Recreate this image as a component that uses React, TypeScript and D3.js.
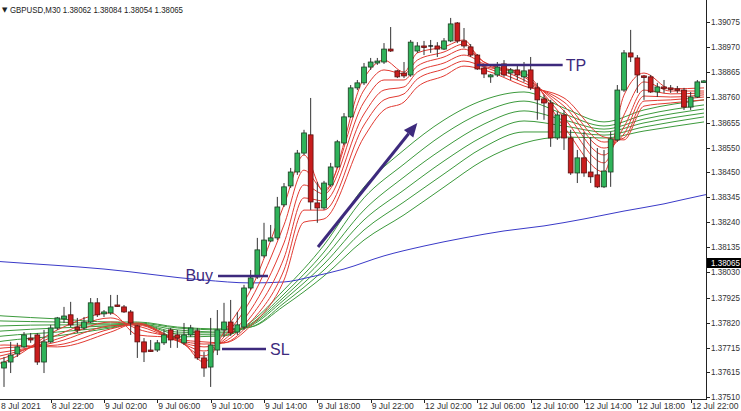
import React from 'react';
import * as d3 from 'd3';

// GBPUSD M30 candles, bar index 0 = 8 Jul 18:30 (weekend gap after bar 58)
const opens = [
  1.37631, 1.37656, 1.3769, 1.37719, 1.37756, 1.37769, 1.37656, 1.3774, 1.37798, 1.37836,
  1.37853, 1.37802, 1.37798, 1.37823, 1.37903, 1.37857, 1.37861, 1.37894, 1.37886, 1.37865,
  1.37807, 1.3774, 1.37706, 1.37706, 1.37736, 1.3779, 1.37769, 1.37736, 1.37769, 1.37786,
  1.37673, 1.37635, 1.37706, 1.3779, 1.37823, 1.37781, 1.37802, 1.37965, 1.38011, 1.38099,
  1.38161, 1.38174, 1.38312, 1.38391, 1.38449, 1.38528, 1.38604, 1.3832, 1.38299, 1.38395,
  1.3847, 1.3857, 1.38679, 1.388, 1.38821, 1.38887, 1.38904, 1.38908, 1.38962, 1.38871,
  1.38862, 1.38854, 1.38954, 1.38975, 1.38975, 1.38975, 1.38962, 1.38996, 1.39071, 1.38996,
  1.38971, 1.38937, 1.38883, 1.38846, 1.38854, 1.389, 1.38862, 1.38875, 1.38846, 1.38875,
  1.388, 1.38754, 1.38737, 1.38591, 1.38687, 1.38591, 1.38445, 1.38508, 1.38449, 1.38437,
  1.38387, 1.38449, 1.38583, 1.38791, 1.38946, 1.38925, 1.3885, 1.38846, 1.38783, 1.38804,
  1.388, 1.38796, 1.38791, 1.3872, 1.38762, 1.38825,
];
const highs = [
  1.37677, 1.3774, 1.37736, 1.37781, 1.37777, 1.37777, 1.3779, 1.37811, 1.37844, 1.37886,
  1.37907, 1.3784, 1.37844, 1.37923, 1.37923, 1.37873, 1.37936, 1.37936, 1.37894, 1.37873,
  1.37811, 1.37756, 1.37748, 1.37748, 1.3779, 1.37798, 1.3779, 1.37819, 1.37811, 1.37798,
  1.37698, 1.3784, 1.37873, 1.37903, 1.37915, 1.37865, 1.37978, 1.3804, 1.38174, 1.38237,
  1.38228, 1.38345, 1.38403, 1.38466, 1.38541, 1.38625, 1.38758, 1.38407, 1.38412, 1.38487,
  1.38583, 1.38695, 1.38812, 1.38833, 1.38904, 1.38925, 1.38925, 1.38987, 1.39054, 1.38875,
  1.38908, 1.39, 1.38991, 1.38996, 1.39, 1.38991, 1.39008, 1.39092, 1.39075, 1.3905,
  1.38983, 1.38941, 1.38891, 1.38858, 1.38908, 1.38916, 1.38883, 1.38896, 1.38908, 1.38929,
  1.38821, 1.38771, 1.3875, 1.387, 1.38708, 1.38625, 1.38541, 1.38616, 1.38595, 1.38549,
  1.38541, 1.38616, 1.38812, 1.38958, 1.39042, 1.38937, 1.38854, 1.38854, 1.38821, 1.38833,
  1.38812, 1.38808, 1.388, 1.38783, 1.38833, 1.38833,
];
const lows = [
  1.37552, 1.3761, 1.37677, 1.37715, 1.37736, 1.37644, 1.3761, 1.37736, 1.3779, 1.37819,
  1.37802, 1.37777, 1.3779, 1.37819, 1.37844, 1.37844, 1.37853, 1.37886, 1.37861, 1.37769,
  1.37673, 1.37656, 1.37698, 1.37698, 1.37727, 1.37715, 1.37715, 1.37727, 1.37761, 1.37665,
  1.37594, 1.37552, 1.37685, 1.37761, 1.37765, 1.37769, 1.3779, 1.37957, 1.38003, 1.38091,
  1.38157, 1.38165, 1.38303, 1.38382, 1.38437, 1.3852, 1.38291, 1.38237, 1.38291, 1.38387,
  1.38466, 1.38562, 1.38675, 1.38791, 1.38812, 1.38875, 1.38896, 1.389, 1.3895, 1.38841,
  1.38841, 1.38846, 1.38946, 1.38937, 1.38946, 1.38929, 1.38958, 1.38991, 1.38987, 1.38966,
  1.38929, 1.38875, 1.38841, 1.38821, 1.38846, 1.38846, 1.38833, 1.38833, 1.38825, 1.38791,
  1.38667, 1.38667, 1.38554, 1.38583, 1.38541, 1.38437, 1.38403, 1.38429, 1.38403, 1.38382,
  1.38382, 1.38387, 1.38575, 1.38783, 1.38908, 1.38779, 1.3875, 1.38779, 1.38762, 1.38779,
  1.38779, 1.38779, 1.38708, 1.38708, 1.38758, 1.38821,
];
const closes = [
  1.37656, 1.37685, 1.37719, 1.37769, 1.37748, 1.37656, 1.3774, 1.37798, 1.3784, 1.37848,
  1.37811, 1.3779, 1.37823, 1.37903, 1.37853, 1.37865, 1.37886, 1.37892, 1.37865, 1.37819,
  1.3774, 1.37698, 1.37704, 1.37736, 1.37769, 1.37748, 1.37756, 1.37769, 1.37798, 1.37673,
  1.37631, 1.37727, 1.3779, 1.37823, 1.37777, 1.37811, 1.37965, 1.38007, 1.38124, 1.38165,
  1.38174, 1.38303, 1.38387, 1.38449, 1.38528, 1.38612, 1.38324, 1.38299, 1.38403, 1.3847,
  1.38575, 1.38679, 1.388, 1.38821, 1.38887, 1.38908, 1.38912, 1.38962, 1.38954, 1.38846,
  1.3885, 1.38991, 1.38975, 1.38973, 1.38975, 1.38962, 1.38996, 1.39067, 1.38996, 1.38975,
  1.38937, 1.38879, 1.38858, 1.38854, 1.38887, 1.38854, 1.38875, 1.38854, 1.38871, 1.388,
  1.3875, 1.38737, 1.38591, 1.38687, 1.38591, 1.38445, 1.38508, 1.38445, 1.38429, 1.38387,
  1.38453, 1.38587, 1.38791, 1.38946, 1.38929, 1.38854, 1.38846, 1.38783, 1.38804, 1.388,
  1.38796, 1.38791, 1.3872, 1.38762, 1.38825, 1.38829,
];

// fast ribbon (red), read at these bars (-1 = left edge of the window)
const redBars = [-1, 0, 8, 16, 20, 26, 30, 33, 37, 42, 45, 48, 54, 57, 60, 62, 66, 69, 72, 78, 84, 90, 93, 96, 100, 105];
const red1 = [1.37648, 1.37656, 1.3779, 1.37861, 1.37769, 1.37756, 1.37656, 1.37781, 1.37957, 1.38311, 1.3852, 1.38366, 1.38841, 1.38916, 1.38866, 1.38946, 1.38971, 1.39, 1.38891, 1.38862, 1.38637, 1.38449, 1.3877, 1.38862, 1.38796, 1.388];
const red2 = [1.37665, 1.37673, 1.37769, 1.3784, 1.37794, 1.37748, 1.37681, 1.37761, 1.37915, 1.38228, 1.38457, 1.38374, 1.38791, 1.38875, 1.38858, 1.38916, 1.3895, 1.38983, 1.38908, 1.38854, 1.38675, 1.38487, 1.38687, 1.38825, 1.38787, 1.38787];
const red3 = [1.37679, 1.37685, 1.37752, 1.37823, 1.37807, 1.37744, 1.37702, 1.37748, 1.37873, 1.38153, 1.38395, 1.38357, 1.38741, 1.38833, 1.38833, 1.38891, 1.38929, 1.38962, 1.38908, 1.38846, 1.38704, 1.3852, 1.38637, 1.38791, 1.38775, 1.38779];
const red4 = [1.37694, 1.37698, 1.3774, 1.37807, 1.37811, 1.37744, 1.37719, 1.3774, 1.37844, 1.3809, 1.38341, 1.38328, 1.38691, 1.38791, 1.38804, 1.38866, 1.38904, 1.38937, 1.389, 1.38833, 1.38724, 1.38549, 1.38608, 1.38766, 1.38762, 1.38771];
const red5 = [1.37712, 1.37715, 1.37727, 1.37794, 1.37815, 1.37748, 1.37731, 1.37736, 1.37823, 1.3804, 1.3829, 1.3829, 1.38645, 1.3875, 1.38775, 1.38837, 1.38879, 1.38912, 1.38887, 1.38821, 1.38741, 1.38574, 1.38591, 1.38745, 1.3875, 1.38762];
const red6 = [1.37725, 1.37727, 1.37719, 1.37781, 1.37819, 1.37752, 1.3774, 1.37736, 1.37807, 1.37998, 1.3824, 1.38253, 1.38595, 1.38708, 1.38741, 1.38804, 1.3885, 1.38891, 1.38875, 1.38808, 1.38758, 1.38595, 1.38583, 1.38724, 1.38737, 1.3875];

// slow ribbon (green)
const greenBars = [-1, 0, 8, 16, 20, 26, 33, 37, 42, 48, 54, 60, 66, 72, 78, 84, 90, 96, 105];
const green1 = [1.3774, 1.37744, 1.37765, 1.37798, 1.37815, 1.37761, 1.37765, 1.37823, 1.37957, 1.38144, 1.38386, 1.38541, 1.38666, 1.3875, 1.38783, 1.38716, 1.38658, 1.38708, 1.3875];
const green2 = [1.37762, 1.37765, 1.37781, 1.37802, 1.37815, 1.37773, 1.37769, 1.37815, 1.3794, 1.38115, 1.38341, 1.38482, 1.38608, 1.387, 1.38745, 1.38691, 1.38641, 1.38687, 1.38729];
const green3 = [1.37784, 1.37786, 1.37798, 1.37807, 1.37815, 1.37781, 1.37777, 1.37811, 1.37927, 1.3809, 1.3829, 1.38428, 1.38549, 1.38649, 1.38704, 1.38666, 1.38628, 1.3867, 1.38712];
const green4 = [1.37806, 1.37807, 1.37811, 1.37811, 1.37815, 1.3779, 1.37781, 1.37807, 1.37915, 1.38065, 1.38249, 1.38374, 1.38495, 1.38599, 1.38662, 1.38641, 1.38616, 1.38654, 1.38695];
const green5 = [1.37828, 1.37827, 1.37823, 1.37815, 1.37819, 1.37798, 1.3779, 1.37802, 1.37902, 1.3804, 1.38207, 1.38324, 1.38441, 1.38553, 1.38616, 1.38616, 1.38603, 1.38637, 1.38679];
const green6 = [1.3785, 1.37848, 1.37836, 1.37823, 1.37823, 1.37802, 1.37794, 1.37802, 1.3789, 1.38015, 1.38165, 1.3827, 1.38386, 1.38499, 1.3857, 1.38595, 1.38591, 1.3862, 1.38658];

// long MA (blue)
const blueBars = [-1, 0, 15, 30, 37, 42, 46, 51, 57, 63, 69, 75, 81, 87, 93, 99, 105, 106];
const blueVals = [1.38076, 1.38074, 1.38044, 1.37998, 1.37986, 1.3799, 1.38011, 1.38044, 1.38099, 1.3814, 1.38174, 1.38203, 1.38224, 1.38253, 1.38286, 1.38316, 1.38353, 1.38358];

const priceTicks = [1.39075, 1.3897, 1.38865, 1.3876, 1.38655, 1.3855, 1.3845, 1.38345, 1.3824, 1.38135, 1.3803, 1.37925, 1.3782, 1.37715, 1.37615, 1.3751];
const lastPrice = 1.38065;
const timeTickBars = [7, 15, 23, 31, 39, 47, 55, 63, 71, 79, 87, 95, 103];
const timeTickLabels = ['8 Jul 22:00', '9 Jul 02:00', '9 Jul 06:00', '9 Jul 10:00', '9 Jul 14:00', '9 Jul 18:00', '9 Jul 22:00', '12 Jul 02:00', '12 Jul 06:00', '12 Jul 10:00', '12 Jul 14:00', '12 Jul 18:00', '12 Jul 22:00'];

// hand drawn objects: [from bar, to bar, price]
const buyLine = [32.1, 39.6, 1.38015];
const slLine = [32.7, 39.3, 1.3771];
const tpLine = [70.9, 83.8, 1.38896];
const arrow = [47.1, 1.38136, 62.0, 1.38654];

const W = 741;
const H = 411;
const plotR = 706;
const plotB = 399;
const ink = '#3d2a7d';

const App = () => {
  const x = d3.scaleLinear().domain([0, 105]).range([4, 704]);
  const y = d3.scaleLinear().domain([1.3751, 1.39075]).range([397, 22]);

  const line = d3.line<[number, number]>()
    .x(d => x(d[0]))
    .y(d => y(d[1]))
    .curve(d3.curveMonotoneX);

  const path = (bars: number[], vals: number[]) =>
    line(bars.map((b, i) => [b, vals[i]] as [number, number])) || '';

  const reds = [red6, red5, red4, red3, red2, red1];
  const greens = [green6, green5, green4, green3, green2, green1];

  const bodyW = 4.8;

  // arrow geometry
  const ax1 = x(arrow[0]), ay1 = y(arrow[1]), ax2 = x(arrow[2]), ay2 = y(arrow[3]);
  const ang = Math.atan2(ay2 - ay1, ax2 - ax1);
  const headL = 14, headW = 6;
  const bx = ax2 - headL * Math.cos(ang), by = ay2 - headL * Math.sin(ang);
  const px = -Math.sin(ang), py = Math.cos(ang);

  const lastY = Math.round(y(lastPrice));

  return (
    <svg width={W} height={H} style={{ position: 'absolute', left: 0, top: 0, background: '#fff' }}
      fontFamily="'Liberation Sans', Arial, sans-serif">
      <defs>
        <clipPath id="plot"><rect x={0} y={0} width={plotR} height={plotB} /></clipPath>
      </defs>
      <rect x={0} y={0} width={W} height={H} fill="#fff" />

      <g clipPath="url(#plot)">
        {greens.map((g, i) => (
          <path key={'g' + i} d={path(greenBars, g)} fill="none" stroke="#3c9a3c" strokeWidth={1} />
        ))}
        <path d={path(blueBars, blueVals)} fill="none" stroke="#3a3ac8" strokeWidth={1} />
        {reds.map((r, i) => (
          <path key={'r' + i} d={path(redBars, r)} fill="none" stroke="#e23a32" strokeWidth={1} />
        ))}

        {opens.map((o, i) => {
          const c = closes[i];
          const cx = x(i);
          const up = c > o;
          const doji = Math.abs(c - o) < 0.000015;
          const top = y(Math.max(o, c));
          const bot = y(Math.min(o, c));
          return (
            <g key={i}>
              <line x1={cx} x2={cx} y1={y(highs[i])} y2={y(lows[i])} stroke="#333" strokeWidth={1} />
              {doji ? (
                <line x1={cx - bodyW / 2} x2={cx + bodyW / 2} y1={top} y2={top} stroke="#111" strokeWidth={1.4} />
              ) : (
                <rect x={cx - bodyW / 2} y={top} width={bodyW} height={Math.max(bot - top, 1.5)}
                  fill={up ? '#2fb35a' : '#c81d1d'} stroke={up ? '#1d3d22' : '#5a1010'} strokeWidth={0.8} />
              )}
            </g>
          );
        })}
      </g>

      {/* annotations */}
      <line x1={x(buyLine[0])} x2={x(buyLine[1])} y1={y(buyLine[2])} y2={y(buyLine[2])} stroke={ink} strokeWidth={2.5} />
      <text x={x(buyLine[0]) - 5} y={y(buyLine[2]) + 5} textAnchor="end" fontSize={16} fill={ink}>Buy</text>
      <line x1={x(slLine[0])} x2={x(slLine[1])} y1={y(slLine[2])} y2={y(slLine[2])} stroke={ink} strokeWidth={2.5} />
      <text x={x(slLine[1]) + 4} y={y(slLine[2]) + 6} fontSize={16} fill={ink}>SL</text>
      <line x1={x(tpLine[0])} x2={x(tpLine[1])} y1={y(tpLine[2])} y2={y(tpLine[2])} stroke={ink} strokeWidth={2.5} />
      <text x={x(tpLine[1]) + 3} y={y(tpLine[2]) + 6} fontSize={16} fill={ink}>TP</text>
      <line x1={ax1} y1={ay1} x2={bx} y2={by} stroke={ink} strokeWidth={3} />
      <polygon points={`${ax2},${ay2} ${bx + px * headW},${by + py * headW} ${bx - px * headW},${by - py * headW}`} fill={ink} />

      {/* header */}
      <text x={2} y={12} fontSize={7} fill="#222" fontFamily="'DejaVu Sans', sans-serif">▼</text>
      <text x={10} y={13} fontSize={9} fill="#222" textLength={173} lengthAdjust="spacingAndGlyphs">GBPUSD,M30  1.38062 1.38084 1.38054 1.38065</text>

      {/* price axis */}
      <line x1={plotR + 0.5} x2={plotR + 0.5} y1={0} y2={plotB} stroke="#222" strokeWidth={1} />
      {priceTicks.map(t => (
        <g key={t}>
          <line x1={plotR} x2={plotR + 4} y1={Math.round(y(t)) + 0.5} y2={Math.round(y(t)) + 0.5} stroke="#222" />
          <text x={711} y={y(t) + 3} fontSize={8.4} fill="#333" textLength={29} lengthAdjust="spacingAndGlyphs">{t.toFixed(5)}</text>
        </g>
      ))}
      <rect x={707} y={lastY - 6} width={34} height={10} fill="#000" />
      <text x={711} y={lastY + 2} fontSize={8.4} fill="#fff" textLength={29} lengthAdjust="spacingAndGlyphs">{lastPrice.toFixed(5)}</text>

      {/* time axis */}
      <line x1={0} x2={plotR + 1} y1={plotB + 0.5} y2={plotB + 0.5} stroke="#222" strokeWidth={1} />
      <text x={1} y={409} fontSize={8.6} fill="#333">8 Jul 2021</text>
      {timeTickBars.map((b, i) => (
        <g key={b}>
          <line x1={Math.round(x(b)) + 0.5} x2={Math.round(x(b)) + 0.5} y1={plotB} y2={plotB + 4} stroke="#222" />
          <text x={x(b) + 1} y={409} fontSize={8.6} fill="#333">{timeTickLabels[i]}</text>
        </g>
      ))}
    </svg>
  );
};

export default App;
